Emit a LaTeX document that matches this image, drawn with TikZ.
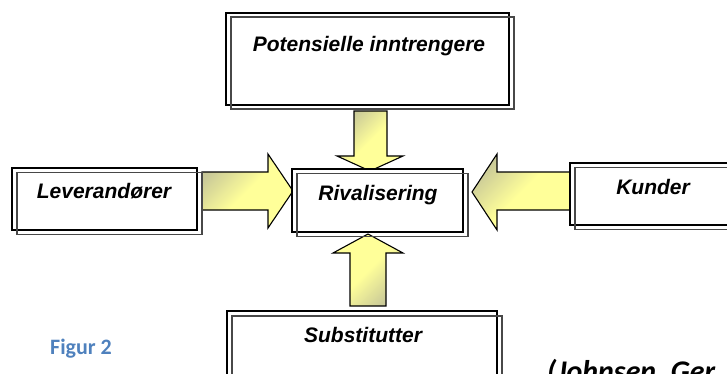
\documentclass[tikz,border=0pt]{standalone}
\usepackage{fontspec}
\setmainfont{Liberation Sans}
\newfontfamily\calibrifont{Carlito}
\definecolor{arrowlight}{RGB}{255,255,153}
\definecolor{arrowdark}{RGB}{200,200,152}
\definecolor{figblue}{RGB}{79,129,189}
\definecolor{framegray}{RGB}{72,72,72}
\begin{document}
\begin{tikzpicture}[x=1pt,y=-1pt,
  box/.style={draw=black, line width=2.4pt, fill=white, inner sep=0pt, outer sep=0pt},
  frame/.style={draw=framegray, line width=1.6pt},
  boxtext/.style={font=\bfseries\itshape\fontsize{21}{25}\selectfont, anchor=base, inner sep=0pt},
  blockarrow/.style={draw=black, line width=1.1pt, line join=miter,
    top color=arrowdark, bottom color=arrowlight, middle color=arrowlight},
]
\useasboundingbox (0,0) rectangle (727,374);
\clip (0,0) rectangle (727,374);

% block arrows
\draw[blockarrow, shading angle=45] (202,172) -- (268,172) -- (268,154) -- (293,191)
  -- (268,228) -- (268,210) -- (202,210) -- cycle;
\draw[blockarrow, shading angle=45] (354,111) -- (387,111) -- (387,156) -- (403,156)
  -- (370,171) -- (337,156) -- (354,156) -- cycle;
\draw[blockarrow, shading angle=45] (570,172) -- (497,172) -- (497,154) -- (472,192)
  -- (497,230) -- (497,210) -- (570,210) -- cycle;
\draw[blockarrow, shading angle=225] (350,306) -- (350,253) -- (333,253) -- (368,234)
  -- (403,253) -- (386,253) -- (386,306) -- cycle;

% boxes
\node[box, minimum width=283pt, minimum height=92pt] (pot) at (367.5,59) {};
\draw[frame] ([shift={(5,4)}]pot.south west) rectangle ([shift={(5,4)}]pot.north east);
\node[boxtext] (potT) at (369,52) {Potensielle inntrengere};

\node[box, minimum width=185pt, minimum height=62pt] (lev) at (104.5,199) {};
\draw[frame] ([shift={(5,4.5)}]lev.south west) rectangle ([shift={(5,4.5)}]lev.north east);
\node[boxtext] (levT) at (104,198) {Leverandører};

\node[box, minimum width=171pt, minimum height=63pt] (riv) at (377.5,200.5) {};
\draw[frame] ([shift={(5,4.5)}]riv.south west) rectangle ([shift={(5,4.5)}]riv.north east);
\node[boxtext] (rivT) at (378,200) {Rivalisering};

\node[box, minimum width=166pt, minimum height=62pt] (kun) at (653,194) {};
\draw[frame] ([shift={(5,4.5)}]kun.south west) rectangle ([shift={(5,4.5)}]kun.north east);
\node[boxtext] (kunT) at (653,194) {Kunder};

\node[box, minimum width=270pt, minimum height=74pt] (sub) at (362,348) {};
\draw[frame] ([shift={(5,5)}]sub.south west) rectangle ([shift={(5,5)}]sub.north east);
\node[boxtext] (subT) at (363,342) {Substitutter};

% captions
\node[font=\calibrifont\bfseries\fontsize{22}{26}\selectfont, text=figblue, anchor=base west, inner sep=0pt]
  (fig) at (50,354) {Figur 2};
\node[font=\calibrifont\bfseries\itshape\fontsize{30}{36}\selectfont, anchor=base west, inner sep=0pt]
  (src) at (547,381) {(Johnsen, Ger};
\end{tikzpicture}
\end{document}
